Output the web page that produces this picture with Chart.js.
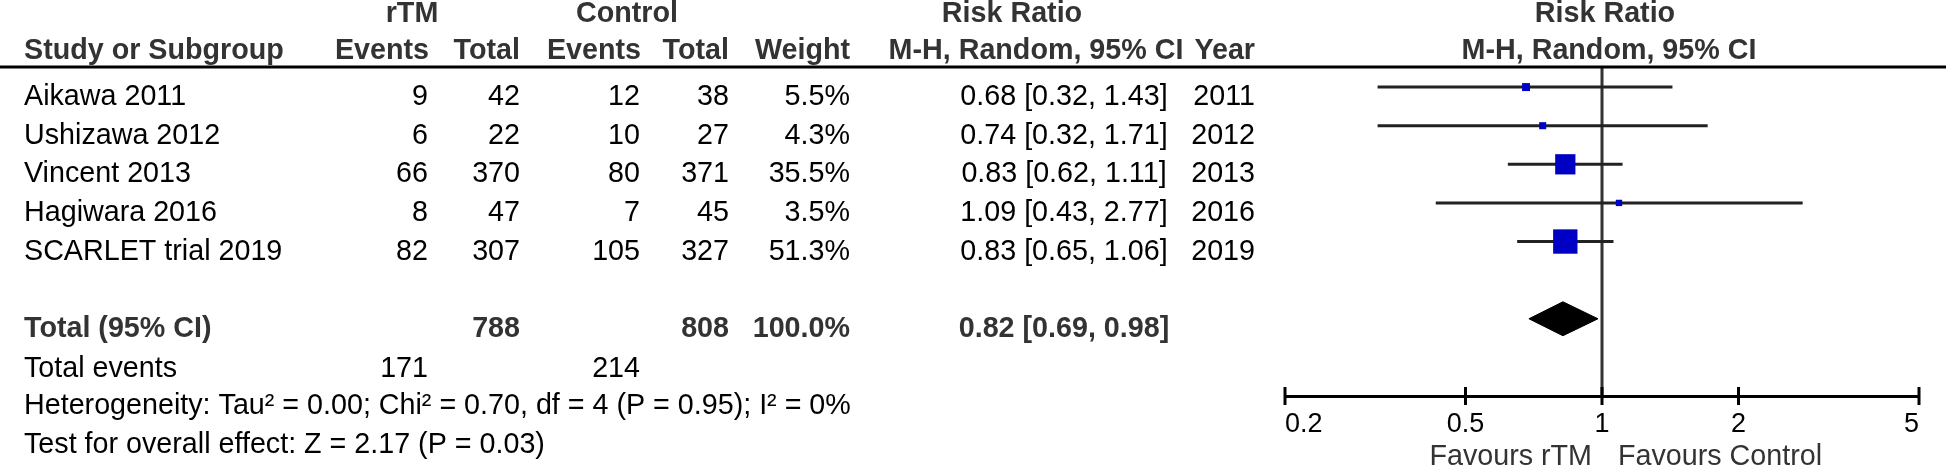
<!DOCTYPE html>
<html>
<head>
<meta charset="utf-8">
<script src="https://cdn.jsdelivr.net/npm/chart.js@4.4.0/dist/chart.umd.min.js"></script>
<style>
  html, body { margin: 0; padding: 0; background: #fff; }
  canvas { display: block; }
</style>
</head>
<body>
<canvas id="forest" width="1946" height="467"></canvas>
<script>
// study data
const studies = ['Aikawa 2011', 'Ushizawa 2012', 'Vincent 2013', 'Hagiwara 2016', 'SCARLET trial 2019'];
const rtmEvents = [9, 6, 66, 8, 82];
const rtmTotal = [42, 22, 370, 47, 307];
const ctrlEvents = [12, 10, 80, 7, 105];
const ctrlTotal = [38, 27, 371, 45, 327];
const weights = [5.5, 4.3, 35.5, 3.5, 51.3];
const riskRatio = [0.68, 0.74, 0.83, 1.09, 0.83];
const ciLow = [0.32, 0.32, 0.62, 0.43, 0.65];
const ciHigh = [1.43, 1.71, 1.11, 2.77, 1.06];
const years = [2011, 2012, 2013, 2016, 2019];

// pooled result: estimate, lower, upper
const pooled = [0.82, 0.69, 0.98];
const pooledTotals = [788, 808];
const pooledEvents = [171, 214];
const pooledWeight = 100.0;

const xTicks = [0.2, 0.5, 1, 2, 5];
const tickLabels = ['0.2', '0.5', '1', '2', '5'];

const heterogeneity = 'Heterogeneity: Tau\u00b2 = 0.00; Chi\u00b2 = 0.70, df = 4 (P = 0.95); I\u00b2 = 0%';
const overallEffect = 'Test for overall effect: Z = 2.17 (P = 0.03)';

const FONT = "'Liberation Sans', Arial, Helvetica, sans-serif";
const FONT_SIZE = 28.7;
const TOTAL_ROW = 6, EVENTS_ROW = 7, HET_ROW = 8, TEST_ROW = 9;
const DIAMOND_HALF = 0.44;

// column anchors (px)
const COL = {
  name: 24, rtmEv: 428, rtmTot: 520, ctrlEv: 640, ctrlTot: 729,
  weight: 850, rr: 1064, year: 1255
};

const fmt2 = v => v.toFixed(2);
const ciText = (e, l, h) => fmt2(e) + ' [' + fmt2(l) + ', ' + fmt2(h) + ']';

// datasets
const ciSets = studies.map((s, i) => ({
  type: 'line',
  label: s,
  data: [{ x: ciLow[i], y: i }, { x: ciHigh[i], y: i }],
  borderColor: '#222',
  borderWidth: 3,
  pointRadius: 0,
  order: 2
}));

const markerSet = {
  type: 'scatter',
  label: 'RR',
  data: riskRatio.map((v, i) => ({ x: v, y: i })),
  pointStyle: 'rect',
  pointRadius: ctx => 3.4 * Math.sqrt(weights[ctx.dataIndex]) / Math.SQRT2,
  backgroundColor: '#0000c4',
  borderWidth: 0,
  order: 0
};

const diamondSet = {
  type: 'line',
  label: 'Total',
  data: [
    { x: pooled[1], y: TOTAL_ROW },
    { x: pooled[0], y: TOTAL_ROW - DIAMOND_HALF },
    { x: pooled[2], y: TOTAL_ROW },
    { x: pooled[0], y: TOTAL_ROW + DIAMOND_HALF },
    { x: pooled[1], y: TOTAL_ROW }
  ],
  borderColor: '#000',
  backgroundColor: '#000',
  borderWidth: 1,
  fill: 'shape',
  tension: 0,
  pointRadius: 0,
  order: 1
};

const nullLine = {
  type: 'line',
  label: 'no effect',
  data: [{ x: 1, y: -0.52 }, { x: 1, y: 8.0 }],
  borderColor: '#333',
  borderWidth: 3,
  pointRadius: 0,
  order: 3
};

function txt(ctx, s, x, y, align, bold, color) {
  ctx.font = (bold ? 'bold ' : '') + FONT_SIZE + 'px ' + FONT;
  ctx.textAlign = align;
  ctx.textBaseline = 'alphabetic';
  ctx.fillStyle = color || '#000';
  ctx.fillText(s, x, y);
}

const tablePlugin = {
  id: 'forestTable',
  afterDraw(chart) {
    const ctx = chart.ctx;
    const xs = chart.scales.x;
    const ys = chart.scales.y;
    const area = chart.chartArea;
    ctx.save();

    // header rule
    ctx.strokeStyle = '#000';
    ctx.lineWidth = 3;
    ctx.beginPath();
    ctx.moveTo(0, area.top);
    ctx.lineTo(chart.width, area.top);
    ctx.stroke();

    // tick marks crossing the axis
    xTicks.forEach(v => {
      const px = xs.getPixelForValue(v);
      ctx.beginPath();
      ctx.moveTo(px, area.bottom - 9);
      ctx.lineTo(px, area.bottom + 9);
      ctx.stroke();
    });

    // headers
    const h1 = 21.5, h2 = 58.5, hc = '#333';
    const one = xs.getPixelForValue(1);
    txt(ctx, 'rTM', 412, h1, 'center', true, hc);
    txt(ctx, 'Control', 627, h1, 'center', true, hc);
    txt(ctx, 'Risk Ratio', 1012, h1, 'center', true, hc);
    txt(ctx, 'Risk Ratio', one + 3, h1, 'center', true, hc);
    txt(ctx, 'Study or Subgroup', COL.name, h2, 'left', true, hc);
    txt(ctx, 'Events', COL.rtmEv + 1, h2, 'right', true, hc);
    txt(ctx, 'Total', COL.rtmTot, h2, 'right', true, hc);
    txt(ctx, 'Events', COL.ctrlEv + 1, h2, 'right', true, hc);
    txt(ctx, 'Total', COL.ctrlTot, h2, 'right', true, hc);
    txt(ctx, 'Weight', COL.weight, h2, 'right', true, hc);
    txt(ctx, 'M-H, Random, 95% CI', 1036, h2, 'center', true, hc);
    txt(ctx, 'Year', COL.year, h2, 'right', true, hc);
    txt(ctx, 'M-H, Random, 95% CI', one + 7, h2, 'center', true, hc);

    // study rows
    const base = r => ys.getPixelForValue(r) + 18;
    studies.forEach((s, i) => {
      const b = base(i);
      txt(ctx, s, COL.name, b, 'left');
      txt(ctx, String(rtmEvents[i]), COL.rtmEv, b, 'right');
      txt(ctx, String(rtmTotal[i]), COL.rtmTot, b, 'right');
      txt(ctx, String(ctrlEvents[i]), COL.ctrlEv, b, 'right');
      txt(ctx, String(ctrlTotal[i]), COL.ctrlTot, b, 'right');
      txt(ctx, weights[i].toFixed(1) + '%', COL.weight, b, 'right');
      txt(ctx, ciText(riskRatio[i], ciLow[i], ciHigh[i]), COL.rr, b, 'center');
      txt(ctx, String(years[i]), COL.year, b, 'right');
    });

    // pooled row
    const bt = base(TOTAL_ROW);
    txt(ctx, 'Total (95% CI)', COL.name, bt, 'left', true, hc);
    txt(ctx, String(pooledTotals[0]), COL.rtmTot, bt, 'right', true, hc);
    txt(ctx, String(pooledTotals[1]), COL.ctrlTot, bt, 'right', true, hc);
    txt(ctx, pooledWeight.toFixed(1) + '%', COL.weight, bt, 'right', true, hc);
    txt(ctx, ciText(pooled[0], pooled[1], pooled[2]), COL.rr, bt, 'center', true, hc);

    const be = base(EVENTS_ROW) + 2;
    txt(ctx, 'Total events', COL.name, be, 'left');
    txt(ctx, String(pooledEvents[0]), COL.rtmEv, be, 'right');
    txt(ctx, String(pooledEvents[1]), COL.ctrlEv, be, 'right');
    txt(ctx, heterogeneity, COL.name, base(HET_ROW), 'left');
    txt(ctx, overallEffect, COL.name, base(TEST_ROW), 'left');

    // favours labels
    txt(ctx, 'Favours rTM', one - 10, 465, 'right', false, '#333');
    txt(ctx, 'Favours Control', one + 16, 465, 'left', false, '#333');

    ctx.restore();
  }
};

new Chart(document.getElementById('forest'), {
  type: 'scatter',
  data: { datasets: [markerSet, diamondSet].concat(ciSets, [nullLine]) },
  options: {
    responsive: false,
    animation: false,
    events: [],
    layout: { padding: { left: 1285, right: 27, top: 67, bottom: 0 } },
    plugins: { legend: { display: false }, tooltip: { enabled: false } },
    scales: {
      x: {
        type: 'logarithmic',
        min: 0.2,
        max: 5,
        position: 'bottom',
        afterBuildTicks: scale => { scale.ticks = xTicks.map(v => ({ value: v })); },
        afterFit: scale => { scale.height = 71; },
        grid: { display: false },
        border: { display: true, color: '#000', width: 3 },
        ticks: {
          align: 'inner',
          padding: 4,
          maxRotation: 0,
          autoSkip: false,
          color: '#000',
          font: { family: FONT, size: 27 },
          callback: (v, i) => tickLabels[i]
        }
      },
      y: {
        type: 'linear',
        reverse: true,
        min: -0.52,
        max: 8.0,
        display: false
      }
    }
  },
  plugins: [tablePlugin]
});
</script>
</body>
</html>
